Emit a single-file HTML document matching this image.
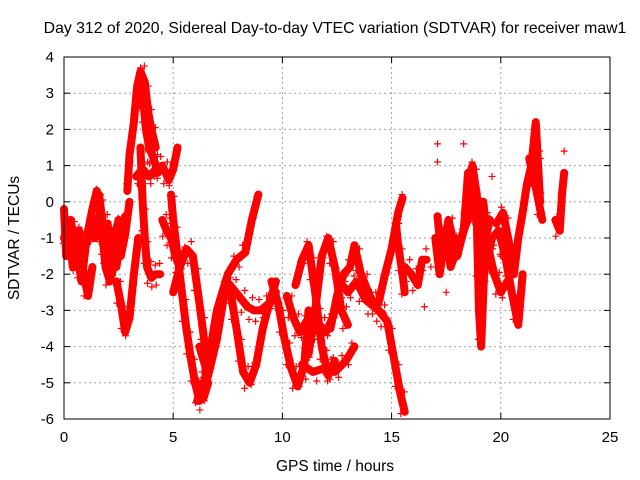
<!DOCTYPE html>
<html><head><meta charset="utf-8"><style>
body{margin:0;background:#fff}
svg{display:block;font-family:"Liberation Sans",sans-serif}
</style></head><body>
<svg id="chart" width="640" height="480">
<text x="335" y="33" text-anchor="middle" font-size="15.8">Day 312 of 2020, Sidereal Day-to-day VTEC variation (SDTVAR) for receiver maw1</text>
<text x="335" y="471" text-anchor="middle" font-size="15.5">GPS time / hours</text>
<text transform="translate(19,238) rotate(-90)" text-anchor="middle" font-size="15.5">SDTVAR / TECUs</text>
<g id="grid"></g>
<g id="ticks"></g>
<g id="marks"></g>
<rect x="64" y="57" width="546" height="362" fill="none" stroke="#000"/>
</svg>
<script>
const xTicks=[0,5,10,15,20,25];
const yTicks=[-6,-5,-4,-3,-2,-1,0,1,2,3,4];
const tA=[0,0.1,0.3,0.5,0.7,0.9,1.1,1.3]; const vA=[-0.2,-1.5,-0.5,-1.2,-0.8,-2.0,-2.6,-1.8];
const tB=[0.9,1.1,1.3,1.5,1.7,1.9,2.1,2.3,2.5]; const vB=[-1.5,-0.8,-0.2,0.3,-0.5,-1.8,-2.2,-1.0,-0.5];
const tC=[1.6,1.8,2.0,2.2,2.4,2.6,2.8,3.0]; const vC=[0.2,-0.7,-0.6,-2.0,-1.2,-1.5,-0.9,0];
const tD=[2.4,2.6,2.8,3.0,3.2,3.4]; const vD=[-2.2,-2.8,-3.6,-3.2,-2.0,-1.0];
const tE=[2.9,3.0,3.2,3.35,3.5,3.7,3.85,4.0,4.2]; const vE=[0.3,1.3,2.2,3.2,3.6,3.3,2.5,2.0,1.5];
const tF=[3.3,3.6,3.9,4.2,4.5,4.8,5.0,5.2]; const vF=[0.7,0.9,0.7,0.9,1.0,0.6,0.9,1.5];
const tG=[3.5,3.6,3.7,3.8,4.0,4.2,4.4]; const vG=[1.5,0.0,-1.0,-1.8,-2.1,-2.0,-2.0];
const tH=[4.5,4.7,4.9,5.1,5.3,5.5]; const vH=[-0.5,-0.8,-1.0,-1.5,-1.8,-1.5];
const tI=[4.9,5.0,5.2,5.4,5.6,5.8,6.0,6.2,6.4,6.6]; const vI=[0.2,-0.5,-1.5,-2.5,-3.5,-4.3,-5.0,-5.5,-5.4,-5.0];
const tJ=[5.0,5.3,5.6,5.9,6.2,6.5]; const vJ=[-2.5,-1.8,-1.3,-1.5,-2.8,-4.2];
const tK=[6.1,6.5,7.0,7.5,7.9,8.3,8.6,8.9]; const vK=[-5.5,-4.8,-3.0,-2.0,-1.6,-1.4,-0.5,0.2];
const tL=[6.2,6.6,7.0,7.3,7.6,8.0,8.4,8.7,9.0,9.4,9.7]; const vL=[-4.0,-4.8,-3.8,-2.7,-2.3,-2.6,-2.9,-3.0,-3.0,-2.8,-2.5];
const tM=[7.6,7.9,8.2,8.5,8.8,9.1,9.4,9.7]; const vM=[-2.4,-3.5,-4.7,-5.0,-4.5,-3.5,-2.8,-2.2];
const tN=[9.5,9.8,10.1,10.4,10.7,11.0,11.2]; const vN=[-2.2,-2.8,-3.8,-4.6,-5.1,-4.5,-3.0];
const tO=[10.6,10.9,11.2,11.5,11.8,12.1,12.4]; const vO=[-2.3,-1.6,-1.2,-2.5,-4.0,-4.8,-4.4];
const tP=[11.2,11.5,11.8,12.1,12.4,12.7,13.0]; const vP=[-4.2,-3.0,-1.5,-1.0,-1.8,-3.0,-3.4];
const tQ=[10.9,11.4,11.9,12.4,12.9,13.3]; const vQ=[-4.5,-4.7,-4.6,-4.7,-4.4,-4.0];
const tR=[12.2,12.5,12.8,13.1,13.3,13.6,14.0,14.4,14.8,15.1,15.4,15.6]; const vR=[-3.5,-2.6,-2.0,-1.8,-1.2,-2.0,-2.6,-3.0,-3.3,-4.3,-5.3,-5.8];
const tS=[12.6,13.0,13.4,13.8,14.2,14.6]; const vS=[-2.2,-2.5,-2.2,-2.7,-2.9,-3.1];
const tT=[14.4,14.7,15.0,15.3,15.5]; const vT=[-2.8,-2.0,-1.3,-0.3,0.1];
const tU=[15.2,15.3,15.5,15.6]; const vU=[-0.6,-1.2,-2.0,-2.5];
const tV=[15.6,15.9,16.2,16.4,16.6]; const vV=[-1.8,-2.0,-2.3,-1.6,-1.6];
const tW=[17.0,17.2,17.4,17.6,17.8,18.0]; const vW=[-1.0,-2.0,-1.2,-0.5,-1.0,-1.5];
const tX=[18.0,18.3,18.5,18.7,18.9,19.0,19.1,19.3,19.5]; const vX=[-1.5,-0.8,0.8,0.0,-0.5,-3.0,-4.0,-1.0,-0.5];
const tY=[18.5,18.7,18.9,19.1,19.3,19.6,19.9,20.2,20.5,20.8,21.0]; const vY=[0.6,1.0,0.2,-1.5,-1.8,-1.0,-0.8,-1.5,-2.5,-3.4,-2.0];
const tZ=[19.8,20.1,20.4,20.6,20.8,21.0,21.2,21.4,21.6,21.8]; const vZ=[-0.6,-0.3,-1.2,-2.0,-1.0,-0.3,0.5,1.0,2.2,0.0];
const tAA=[21.3,21.6,21.9]; const vAA=[1.2,0.4,-0.5];
const tBB=[22.5,22.7,22.8,22.9]; const vBB=[-0.5,-0.8,0.2,0.8];
const tCC=[0.0,0.2,0.4,0.6,0.8,1.0,1.2,1.4,1.6,1.8,2.0,2.2,2.4,2.6,2.8]; const vCC=[-1.0,-0.6,-1.8,-1.4,-2.2,-1.2,-0.6,-1.0,-0.4,-1.2,-1.6,-0.8,-1.8,-1.0,-0.4];
const tDD=[3.3,3.45,3.6,3.75,3.9,4.1,4.3]; const vDD=[2.6,3.4,3.0,2.0,1.5,1.2,0.8];
const tEE=[10.2,10.5,10.8,11.1,11.4,11.7,12.0,12.3,12.6]; const vEE=[-2.6,-3.2,-3.6,-3.3,-3.6,-3.4,-3.6,-3.2,-2.6];
const tFF=[17.1,17.3,17.5,17.7,18.6,18.8,19.0,19.2,19.4,19.7,20.0,20.3]; const vFF=[-0.4,-1.6,-0.8,-1.8,-0.3,0.4,-0.8,0.0,-1.2,-2.0,-2.5,-2.2];
const tIso=[16.8,17.1,17.1,18.3,17.5,19.6,16.5,21.8,22.9,20.0]; const vIso=[-1.8,1.6,1.1,1.6,-2.5,0.7,-2.9,1.2,1.4,-1.5];

const tracesT=[tA,tB,tC,tD,tE,tF,tG,tH,tI,tJ,tK,tL,tM,tN,tO,tP,tQ,tR,tS,tT,tU,tV,tW,tX,tY,tZ,tAA,tBB,tCC,tDD,tEE,tFF];
const tracesV=[vA,vB,vC,vD,vE,vF,vG,vH,vI,vJ,vK,vL,vM,vN,vO,vP,vQ,vR,vS,vT,vU,vV,vW,vX,vY,vZ,vAA,vBB,vCC,vDD,vEE,vFF];

const X0=64,X1=610,Y0=419,Y1=57;
function sx(t){return X0+(t-0)/(25-0)*(X1-X0);}
function sy(v){return Y0-(v+6)/10*(Y0-Y1);}
const NS='http://www.w3.org/2000/svg';
const grid=document.getElementById('grid'),ticks=document.getElementById('ticks'),marks=document.getElementById('marks');
function mk(tag,attrs,parent){const e=document.createElementNS(NS,tag);for(const k in attrs)e.setAttribute(k,attrs[k]);parent.appendChild(e);return e;}
xTicks.forEach(t=>{
  const x=sx(t);
  if(t>0&&t<25){const g=mk('line',{x1:x,x2:x,y1:Y1,y2:Y0,stroke:'#a0a0a0','stroke-dasharray':'2,3'},grid);
  
  }
  mk('line',{x1:x,x2:x,y1:Y0,y2:Y0-6,stroke:'#000'},ticks);
  mk('line',{x1:x,x2:x,y1:Y1,y2:Y1+6,stroke:'#000'},ticks);
  const l=mk('text',{x:x,y:Y0+23,'text-anchor':'middle','font-size':'15'},ticks);l.textContent=t;
  
  
});
yTicks.forEach(v=>{
  const y=sy(v);
  if(v>-6&&v<4){const g=mk('line',{x1:X0,x2:X1,y1:y,y2:y,stroke:'#a0a0a0','stroke-dasharray':'2,3'},grid);
  
  }
  mk('line',{x1:X0,x2:X0+6,y1:y,y2:y,stroke:'#000'},ticks);
  mk('line',{x1:X1,x2:X1-6,y1:y,y2:y,stroke:'#000'},ticks);
  const l=mk('text',{x:X0-10,y:y+5,'text-anchor':'end','font-size':'15'},ticks);l.textContent=v;
  
  
});
let d='';
function plus(t,v){const x=sx(t),y=sy(v);d+=`M${x-3.5} ${y}h7M${x} ${y-3.5}v7`;}
tracesT.forEach((ts,i)=>{
  const vs=tracesV[i];
  const pts=ts.map((t,j)=>sx(t)+','+sy(vs[j])).join(' ');
  const pl=mk('polyline',{points:pts,fill:'none',stroke:'#f00','stroke-width':8,'stroke-linejoin':'round','stroke-linecap':'round'},marks);
  
  
  ts.forEach((t,j)=>{
    plus(t,vs[j]);
    if(j<ts.length-1){plus((t+ts[j+1])/2+0.08,(vs[j]+vs[j+1])/2+0.3);plus((t+ts[j+1])/2-0.08,(vs[j]+vs[j+1])/2-0.3);}
  });
});
tIso.forEach((t,j)=>plus(t,vIso[j]));
const mp=mk('path',{d:d,stroke:'#f00','stroke-width':1.2,fill:'none'},marks);


</script>
</body></html>
